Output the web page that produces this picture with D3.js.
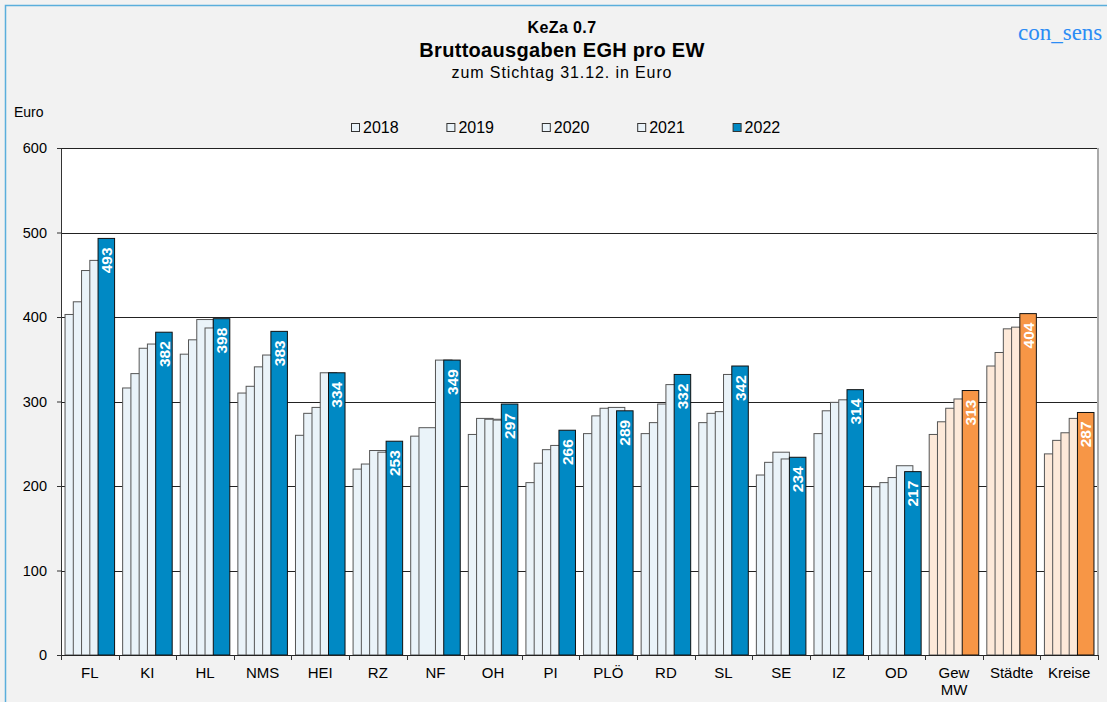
<!DOCTYPE html>
<html>
<head>
<meta charset="utf-8">
<script src="https://cdn.jsdelivr.net/npm/d3@7"></script>
<style>
  html, body { margin: 0; padding: 0; background: #f2f2f2; }
  #chart { width: 1107px; height: 702px; }
</style>
</head>
<body>
<div id="chart"></div>
<script>
// Bruttoausgaben EGH pro EW, values in Euro per resident
const categories = ["FL","KI","HL","NMS","HEI","RZ","NF","OH","PI","PLÖ","RD","SL","SE","IZ","OD","Gew MW","Städte","Kreise"];
const years = ["2018","2019","2020","2021","2022"];
const v2018 = [403,316,356,310,260,220,259,261,204,262,262,275,213,262,199,261,342,238];
const v2019 = [418,333,373,318,286,226,269,280,227,283,275,286,228,289,204,276,358,254];
const v2020 = [455,363,397,341,293,242,null,279,243,292,297,288,240,299,210,292,386,263];
const v2021 = [467,368,387,355,334,240,349,278,248,293,320,332,232,302,224,303,388,280];
const v2022 = [493,382,398,383,334,253,349,297,266,289,332,342,234,314,217,313,404,287];
const series = [v2018, v2019, v2020, v2021, v2022];
const yTicks = [0,100,200,300,400,500,600];
const summaryCats = ["Gew MW","Städte","Kreise"];

const W = 1107, H = 702;
const plot = { left: 61, right: 1098, top: 148, bottom: 655 };
const FONT = "'Liberation Sans', Arial, sans-serif";

const svg = d3.select("#chart").append("svg")
  .attr("width", W).attr("height", H)
  .style("font-family", FONT);

// outer frame (light blue line at top and left)
svg.append("rect").attr("width", W).attr("height", H).attr("fill", "#f2f2f2");
svg.append("path").attr("d", `M5.5,${H} V5.5 H${W}`)
  .attr("fill", "none").attr("stroke", "#5aaedc").attr("stroke-width", 1.5);

// titles
svg.append("text").attr("x", 562).attr("y", 33).attr("text-anchor", "middle")
  .style("font-size", "16px").style("font-weight", "bold").style("letter-spacing", "0.4px")
  .text("KeZa 0.7");
svg.append("text").attr("x", 562).attr("y", 57).attr("text-anchor", "middle")
  .style("font-size", "20px").style("font-weight", "bold").style("letter-spacing", "0.3px")
  .text("Bruttoausgaben EGH pro EW");
svg.append("text").attr("x", 562).attr("y", 78).attr("text-anchor", "middle")
  .style("font-size", "16px").style("letter-spacing", "0.9px")
  .text("zum Stichtag 31.12. in Euro");
svg.append("text").attr("x", 1018).attr("y", 40)
  .style("font-family", "'Liberation Serif', 'Times New Roman', serif")
  .style("font-size", "23px").style("fill", "#2b8cf5").text("con_sens");

svg.append("text").attr("x", 14).attr("y", 117).style("font-size", "14px").text("Euro");

const x = d3.scaleBand().domain(categories).range([plot.left, plot.right])
  .paddingInner(0.14).paddingOuter(0.07);
const y = d3.scaleLinear().domain([0, 600]).range([plot.bottom, plot.top]);
const unit = x.bandwidth() / 6;   // each bar 2 units wide, overlapping by half

// plot background
svg.append("rect").attr("x", plot.left).attr("y", plot.top)
  .attr("width", plot.right - plot.left).attr("height", plot.bottom - plot.top)
  .attr("fill", "#fff");

// gridlines
svg.append("g").selectAll("line").data(yTicks.filter(d => d > 0)).enter().append("line")
  .attr("x1", plot.left).attr("x2", plot.right)
  .attr("y1", d => Math.round(y(d)) + 0.5).attr("y2", d => Math.round(y(d)) + 0.5)
  .attr("stroke", "#222").attr("stroke-width", 1);
svg.append("line").attr("x1", plot.right).attr("x2", plot.right)
  .attr("y1", plot.top).attr("y2", plot.bottom)
  .attr("stroke", "#aaa").attr("stroke-width", 2);

// bars, series by series so later years sit on top
const isSum = c => summaryCats.includes(c);
series.forEach((vals, si) => {
  const last = si === series.length - 1;
  const rows = categories.map((c, i) => ({ c, v: vals[i] })).filter(d => d.v != null);
  svg.append("g").selectAll("rect").data(rows).enter().append("rect")
    .attr("x", d => x(d.c) + si * unit)
    .attr("y", d => y(d.v))
    .attr("width", 2 * unit)
    .attr("height", d => y(0) - y(d.v))
    .attr("fill", d => last ? (isSum(d.c) ? "#f79646" : "#0089c4") : (isSum(d.c) ? "#fde9d9" : "#eaf3f9"))
    .attr("stroke", last ? "#111" : "#555")
    .attr("stroke-width", 1);
});

// value labels in 2022 bars
svg.append("g").selectAll("text").data(categories.map((c, i) => ({ c, v: v2022[i] }))).enter()
  .append("text")
  .attr("transform", d => `translate(${x(d.c) + 5 * unit},${y(d.v) + 9}) rotate(-90)`)
  .attr("text-anchor", "end").attr("dy", "0.36em")
  .style("font-size", "15.5px").style("font-weight", "bold").style("fill", "#fff")
  .text(d => d.v);

// y axis
const yAxis = svg.append("g").attr("transform", `translate(${plot.left},0)`)
  .call(d3.axisLeft(y).tickValues(yTicks).tickSize(4).tickPadding(10));
yAxis.select(".domain").attr("stroke", "#333");
yAxis.selectAll(".tick line").attr("stroke", "#333");
yAxis.selectAll("text").style("font-size", "14.5px").style("font-family", FONT).attr("fill", "#000");

// x axis: ticks at category boundaries
const bounds = categories.map(c => x(c) - x.step() * x.paddingInner() / 2);
bounds.push(plot.right);
const xAxis = svg.append("g");
xAxis.append("line").attr("x1", plot.left).attr("x2", plot.right)
  .attr("y1", plot.bottom + 0.5).attr("y2", plot.bottom + 0.5).attr("stroke", "#222");
xAxis.selectAll(".bt").data(bounds).enter().append("line")
  .attr("x1", d => Math.round(d) + 0.5).attr("x2", d => Math.round(d) + 0.5)
  .attr("y1", plot.bottom).attr("y2", plot.bottom + 5).attr("stroke", "#333");
xAxis.selectAll("text").data(categories).enter().append("text")
  .attr("x", d => x(d) + x.bandwidth() / 2).attr("y", plot.bottom + 23)
  .attr("text-anchor", "middle").style("font-size", "15px")
  .each(function(d) {
    const parts = d === "Gew MW" ? ["Gew", "MW"] : [d];
    parts.forEach((p, i) => d3.select(this).append("tspan")
      .attr("x", x(d) + x.bandwidth() / 2).attr("dy", i ? 17 : 0).text(p));
  });

// legend
const legend = svg.append("g").attr("transform", "translate(351,127)");
years.forEach((yr, i) => {
  const g = legend.append("g").attr("transform", `translate(${i * 95.4},0)`);
  g.append("rect").attr("x", 0.5).attr("y", -3.5).attr("width", 8).attr("height", 8)
    .attr("fill", i === years.length - 1 ? "#0089c4" : "#eaf3f9").attr("stroke", "#333");
  g.append("text").attr("x", 12).attr("y", 5.5).style("font-size", "16px").text(yr);
});
</script>
</body>
</html>
